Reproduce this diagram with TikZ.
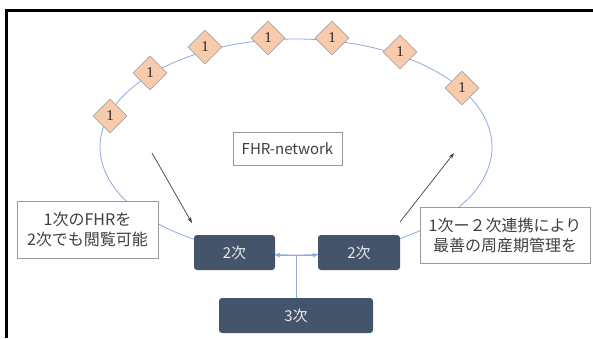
\documentclass[tikz,border=0pt]{standalone}
\usepackage{fontspec}
\setmainfont{Liberation Serif}
\newfontfamily\jp{Noto Sans CJK JP}
\usetikzlibrary{shapes.geometric,arrows.meta}
\definecolor{ringblue}{HTML}{8FAADC}
\definecolor{peach}{HTML}{F8CBAD}
\definecolor{dgray}{HTML}{A5A5A5}
\definecolor{slate}{HTML}{44546A}
\definecolor{txtgray}{HTML}{404040}
\tikzset{
  dia/.style={diamond, draw=dgray, fill=peach, line width=0.8pt, minimum width=34pt, minimum height=34pt, inner sep=0pt, font=\fontsize{15}{15}\selectfont, text=black!85},
  hosp/.style={rounded corners=3pt, fill=slate, text=white!88!slate, font=\jp\fontsize{15}{15}\selectfont, minimum height=35pt, inner sep=0pt},
  note/.style={draw=gray!80, fill=white, line width=0.8pt, text=txtgray, font=\jp\fontsize{16}{20}\selectfont, align=center, inner sep=0pt},
  ptr/.style={-{Stealth[length=6pt,width=4pt]}, draw=txtgray, line width=0.7pt},
  link/.style={{Stealth[length=5pt,width=5pt,open]}-{Stealth[length=5pt,width=5pt,open]}, draw=ringblue, line width=0.8pt}
}
\begin{document}
\begin{tikzpicture}[x=1pt,y=-1pt]
\useasboundingbox (0,0) rectangle (593,338);
% frame
\draw[line width=3pt] (6,338) -- (6,10) -- (593,10);
% ring
\node[ellipse, draw=ringblue, line width=0.8pt, minimum width=392pt, minimum height=216pt, inner sep=0pt] (net) at (296,147) {};
% diamonds
\node[dia] (d1) at (110,116) {1};
\node[dia] (d2) at (150,73) {1};
\node[dia] (d3) at (205,47) {1};
\node[dia] (d4) at (268,38) {1};
\node[dia] (d5) at (332,38) {1};
\node[dia] (d6) at (400,52) {1};
\node[dia] (d7) at (462,88) {1};
% label
\node[note, minimum width=109pt, minimum height=33pt, font=\jp\fontsize{15}{15}\selectfont] (lbl) at (287.5,148.5) {FHR-network};
% hospitals
\node[hosp, minimum width=81pt] (b2l) at (234.5,252.5) {2次};
\node[hosp, minimum width=82pt] (b2r) at (359,252.5) {2次};
\node[hosp, minimum width=154pt] (b3) at (296,315.5) {3次};
\coordinate (mid) at ([yshift=-2.5pt]b2l.east);
\draw[link] (mid) -- (mid -| b2r.west);
\draw[draw=ringblue, line width=0.8pt] (b3.north) -- (b3.north |- mid);
% notes
\node[note, minimum width=141pt, minimum height=57pt] (nl) at (87.5,229.5) {1次のFHRを\\2次でも閲覧可能};
\node[note, minimum width=170pt, minimum height=56pt] (nr) at (505,235) {1次ー２次連携により\\最善の周産期管理を};
% pointers
\coordinate (la) at (152,153);
\coordinate (lb) at (192,223);
\coordinate (ra) at (400,222);
\coordinate (rb) at (454,153);
\draw[ptr] (la) -- (lb);
\draw[ptr] (ra) -- (rb);
\end{tikzpicture}
\end{document}
